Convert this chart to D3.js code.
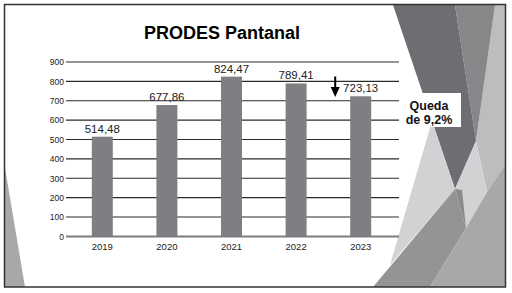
<!DOCTYPE html>
<html>
<head>
<meta charset="utf-8">
<script src="https://cdn.jsdelivr.net/npm/d3@7"></script>
<style>
  body { margin: 0; background: #fff; }
  svg { display: block; font-family: "Liberation Sans", Arial, sans-serif; }
</style>
</head>
<body>
<div id="chart"></div>
<script>
var years = ['2019', '2020', '2021', '2022', '2023'];
var values = [514.48, 677.86, 824.47, 789.41, 723.13];
var yTicks = [0, 100, 200, 300, 400, 500, 600, 700, 800, 900];
var title = 'PRODES Pantanal';
var noteLines = ['Queda', 'de 9,2%'];

var width = 512, height = 293;

// slide decoration (background facets)
var facets = [
    {fill: '#bdbdc0', pts: [[495, 5], [505, 5], [505, 165], [487, 192], [476, 141]]},
    {fill: '#87878a', pts: [[455, 5], [495, 5], [476, 141]]},
    {fill: '#6e6e72', pts: [[393, 5], [455, 5], [476, 141], [455, 189]]},
    {fill: '#d2d2d4', pts: [[476, 141], [487, 192], [466, 228], [455, 189]]},
    {fill: '#d2d2d4', pts: [[432, 121], [390, 265], [455, 189]]},
    {fill: '#8a8a8d', pts: [[455, 189], [462, 190], [466, 228]]},
    {fill: '#949497', pts: [[373, 287], [455, 189], [466, 228], [430, 287]]},
    {fill: '#a8a8ab', pts: [[430, 287], [505, 287], [505, 165], [487, 192], [466, 228]]},
    {fill: '#a8a8ab', pts: [[5, 168], [25, 287], [5, 287]]}
];

var svg = d3.select('#chart').append('svg')
    .attr('width', width)
    .attr('height', height);

svg.selectAll('polygon.facet')
    .data(facets)
    .enter()
    .append('polygon')
    .attr('class', 'facet')
    .attr('fill', function (d) { return d.fill; })
    .attr('points', function (d) { return d.pts.join(' '); });

svg.append('rect')
    .attr('x', 4.5).attr('y', 4.5)
    .attr('width', 501).attr('height', 282.5)
    .attr('fill', 'none')
    .attr('stroke', '#333')
    .attr('stroke-width', 1.5);

var x = d3.scaleBand()
    .domain(years)
    .range([70, 393])
    .paddingInner(0.675)
    .paddingOuter(0.3375);

var y = d3.scaleLinear()
    .domain([0, 900])
    .range([236.4, 62]);

var fmt = d3.formatLocale({decimal: ',', thousands: '.', grouping: [3], currency: ['R$', '']}).format('.2f');

// gridlines
svg.selectAll('line.grid')
    .data(yTicks.filter(function (d) { return d > 0; }))
    .enter()
    .append('line')
    .attr('class', 'grid')
    .attr('x1', 66).attr('x2', 399)
    .attr('y1', function (d) { return y(d); })
    .attr('y2', function (d) { return y(d); })
    .attr('stroke', '#2a2a2a')
    .attr('stroke-width', 1.1);

// y axis labels
var yAxis = d3.axisLeft(y).tickValues(yTicks).tickSize(0).tickPadding(0);
var yg = svg.append('g')
    .attr('transform', 'translate(64,0)')
    .call(yAxis);
yg.select('.domain').remove();
yg.selectAll('text')
    .attr('font-size', '8.5px')
    .attr('font-family', '"Liberation Sans", Arial, sans-serif')
    .attr('fill', '#222');

// bars
svg.selectAll('rect.bar')
    .data(values)
    .enter()
    .append('rect')
    .attr('class', 'bar')
    .attr('x', function (d, i) { return x(years[i]); })
    .attr('y', function (d) { return y(d); })
    .attr('width', x.bandwidth())
    .attr('height', function (d) { return y(0) - y(d); })
    .attr('fill', '#7f7f83');

// zero line
svg.append('line')
    .attr('x1', 66).attr('x2', 399)
    .attr('y1', y(0)).attr('y2', y(0))
    .attr('stroke', '#7d7d80')
    .attr('stroke-width', 2);

// x axis labels
var xAxis = d3.axisBottom(x).tickSize(0).tickPadding(0);
var xg = svg.append('g')
    .attr('transform', 'translate(0,' + 250 + ')')
    .call(xAxis);
xg.select('.domain').remove();
xg.selectAll('text')
    .attr('dy', 0)
    .attr('font-size', '9.5px')
    .attr('font-family', '"Liberation Sans", Arial, sans-serif')
    .attr('fill', '#222');

// value labels
svg.selectAll('text.val')
    .data(values)
    .enter()
    .append('text')
    .attr('class', 'val')
    .attr('x', function (d, i) { return x(years[i]) + x.bandwidth() / 2; })
    .attr('y', function (d) { return y(d) - 4; })
    .attr('text-anchor', 'middle')
    .attr('font-size', '11.5px')
    .attr('fill', '#222')
    .text(function (d) { return fmt(d); });

// title
svg.append('text')
    .attr('x', 222).attr('y', 38.5)
    .attr('text-anchor', 'middle')
    .attr('font-size', '18px')
    .attr('font-weight', 'bold')
    .attr('fill', '#000')
    .text(title);

// arrow down next to last bar
var last = years.length - 1;
var ax = x(years[last]) - 15;
svg.append('line')
    .attr('x1', ax).attr('x2', ax)
    .attr('y1', 76.5).attr('y2', 89)
    .attr('stroke', '#000')
    .attr('stroke-width', 2);
svg.append('path')
    .attr('d', 'M' + (ax - 4.5) + ',87 L' + (ax + 4.5) + ',87 L' + ax + ',97 Z')
    .attr('fill', '#000');

// note box
svg.append('rect')
    .attr('x', 405).attr('y', 93)
    .attr('width', 56).attr('height', 34)
    .attr('fill', '#fff');
svg.selectAll('text.note')
    .data(noteLines)
    .enter()
    .append('text')
    .attr('class', 'note')
    .attr('x', 429)
    .attr('y', function (d, i) { return 110 + i * 14; })
    .attr('text-anchor', 'middle')
    .attr('font-size', '12.5px')
    .attr('font-weight', 'bold')
    .attr('fill', '#111')
    .text(function (d) { return d; });
</script>
</body>
</html>
